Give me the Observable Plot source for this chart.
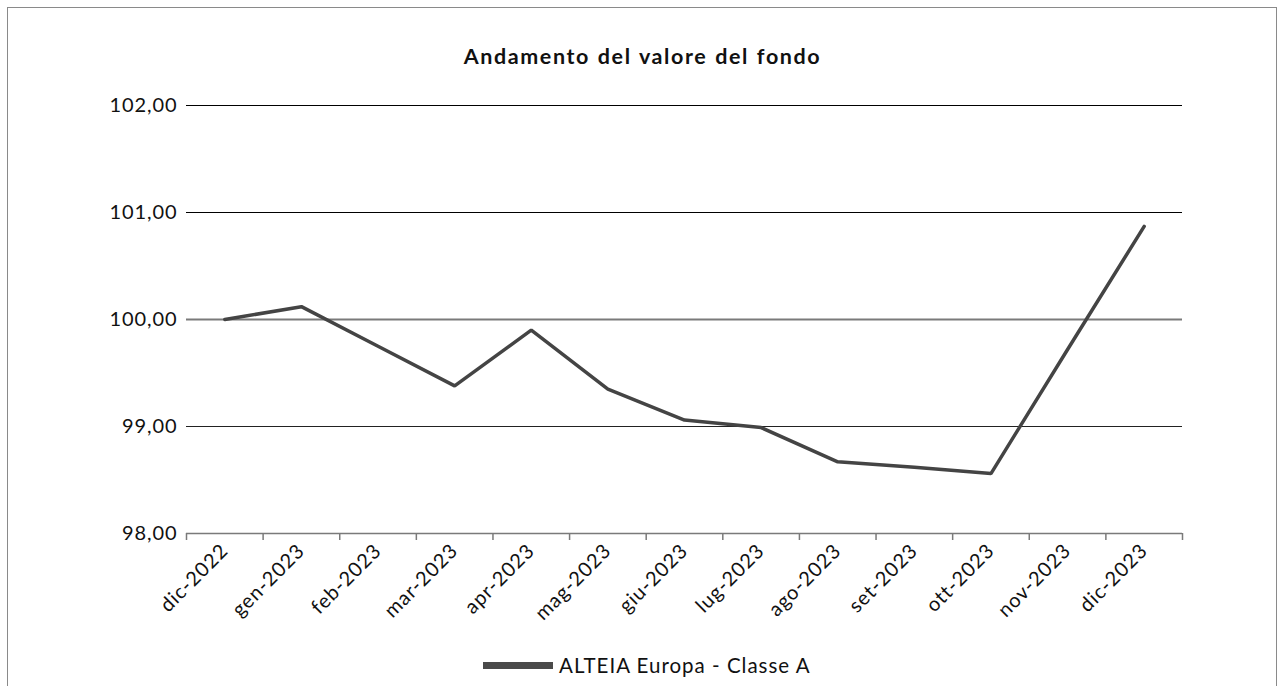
<!DOCTYPE html>
<html>
<head>
<meta charset="utf-8">
<script src="https://cdn.jsdelivr.net/npm/d3@7"></script>
<script src="https://cdn.jsdelivr.net/npm/@observablehq/plot@0.6"></script>
<style>
  html, body { margin: 0; padding: 0; background: #fff; }
  body { width: 1285px; height: 686px; overflow: hidden; font-family: Lato, "Open Sans", sans-serif; }
  #wrap { position: relative; width: 1285px; height: 686px; }
  #frame { position: absolute; left: 7px; top: 7px; width: 1270px; height: 700px; border: 1.5px solid #8a8a8a; box-sizing: border-box; }
  #title { position: absolute; left: 0; width: 1285px; top: 43px; text-align: center; font-family: Lato, sans-serif; font-weight: 700; font-size: 21.5px; letter-spacing: 1.6px; word-spacing: 1px; color: #111; }
  #legend { position: absolute; left: 483px; top: 653px; display: flex; align-items: center; font-family: Lato, sans-serif; font-size: 20.5px; letter-spacing: 1px; color: #111; }
  #legend .sw { width: 70px; height: 7px; background: #4a4a4a; margin-right: 6px; }
  #chart { position: absolute; left: 0; top: 0; }
</style>
</head>
<body>
<div id="wrap">
  <div id="frame"></div>
  <div id="chart"></div>
  <div id="title">Andamento del valore del fondo</div>
  <div id="legend"><div class="sw"></div><span>ALTEIA Europa - Classe A</span></div>
</div>
<script>
const months = ["dic-2022","gen-2023","feb-2023","mar-2023","apr-2023","mag-2023","giu-2023","lug-2023","ago-2023","set-2023","ott-2023","nov-2023","dic-2023"];
const values = [100.00, 100.12, 99.75, 99.38, 99.90, 99.35, 99.06, 98.99, 98.67, 98.62, 98.56, 99.72, 100.87];
const yTicks = [98, 99, 100, 101, 102];
const seriesName = "ALTEIA Europa - Classe A";

const data = months.map((m, i) => ({i, month: m, value: values[i]}));
const centers = months.map((m, i) => i);
const bounds = d3.range(months.length + 1).map(i => i - 0.5);
const fmt = d => d.toFixed(2).replace(".", ",");

const chart = Plot.plot({
  width: 1285,
  height: 686,
  marginLeft: 186,
  marginRight: 103,
  marginTop: 105,
  marginBottom: 153,
  style: {fontFamily: "Lato, sans-serif", fontSize: "20px", letterSpacing: "0.9px", color: "#111", background: "transparent"},
  x: {type: "linear", domain: [-0.5, months.length - 0.5]},
  y: {domain: [98, 102]},
  marks: [
    Plot.ruleY([101, 102], {stroke: "#000", strokeWidth: 1}),
    Plot.ruleY([100], {stroke: "#7a7a7a", strokeWidth: 2}),
    Plot.ruleY([99], {stroke: "#222", strokeWidth: 1.2}),
    Plot.ruleY([98], {stroke: "#7a7a7a", strokeWidth: 1.5}),
    Plot.axisY({ticks: yTicks, tickSize: 0, tickPadding: 9, tickFormat: fmt, label: null, fontSize: 20}),
    Plot.axisX({ticks: bounds, tickSize: 7, tickFormat: () => "", label: null, stroke: "#7a7a7a", strokeWidth: 1.5}),
    Plot.axisX({ticks: centers, tickSize: 0, tickPadding: 14, tickRotate: -45, tickFormat: i => months[i], label: null, fontSize: 20}),
    Plot.line(data, {x: "i", y: "value", stroke: "#444", strokeWidth: 3.5, strokeLinejoin: "miter"})
  ]
});
document.getElementById("chart").appendChild(chart);
</script>
</body>
</html>
